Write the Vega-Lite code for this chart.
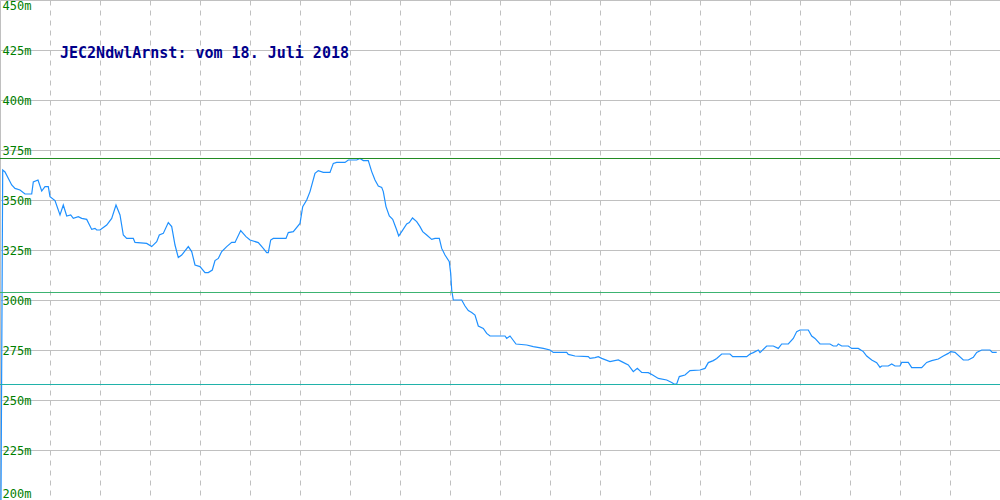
{
  "$schema": "https://vega.github.io/schema/vega-lite/v6.json",
  "width": 1000,
  "height": 500,
  "autosize": {"type": "none"},
  "padding": 0,
  "background": "white",
  "config": {"view": {"stroke": "#c0c0c0", "strokeWidth": 1}},
  "title": {
    "text": "JEC2NdwlArnst: vom 18. Juli 2018",
    "anchor": "start",
    "orient": "top",
    "frame": "group",
    "offset": -74,
    "dx": 60,
    "baseline": "alphabetic",
    "font": "DejaVu Sans Mono",
    "fontSize": 15,
    "fontWeight": "bold",
    "color": "#00008B"
  },
  "layer": [
    {
      "data": {"values": [
        {"t": 1, "v": 200}, {"t": 2.7, "v": 365}, {"t": 5, "v": 364}, {"t": 11.7, "v": 357.5}, {"t": 15, "v": 355.8},
        {"t": 20, "v": 355}, {"t": 25, "v": 353}, {"t": 31.7, "v": 353}, {"t": 33.3, "v": 359}, {"t": 38, "v": 360},
        {"t": 41.7, "v": 354.5}, {"t": 45, "v": 356.7}, {"t": 48.3, "v": 356.7}, {"t": 50, "v": 351.7}, {"t": 55, "v": 349.7},
        {"t": 60, "v": 342.5}, {"t": 63.3, "v": 347.5}, {"t": 66.7, "v": 342}, {"t": 70.7, "v": 342.5}, {"t": 73.3, "v": 340.8},
        {"t": 78.3, "v": 341.7}, {"t": 81.7, "v": 340.8}, {"t": 86.7, "v": 340.3}, {"t": 91.7, "v": 335.3}, {"t": 95, "v": 335.8},
        {"t": 96.7, "v": 335}, {"t": 100, "v": 335}, {"t": 106.7, "v": 337.5}, {"t": 111.7, "v": 340.8}, {"t": 116, "v": 347.5},
        {"t": 120, "v": 342.5}, {"t": 123.3, "v": 332.5}, {"t": 126.7, "v": 330.8}, {"t": 133.3, "v": 330.8}, {"t": 135, "v": 328.8},
        {"t": 146.7, "v": 328.3}, {"t": 151.7, "v": 326.7}, {"t": 156.7, "v": 329.2}, {"t": 159.3, "v": 332.5}, {"t": 163.3, "v": 333.3},
        {"t": 168.3, "v": 338.7}, {"t": 171.7, "v": 336.7}, {"t": 175, "v": 327.5}, {"t": 178.3, "v": 321.2}, {"t": 181.7, "v": 322.5},
        {"t": 188.3, "v": 326.7}, {"t": 191.7, "v": 324.2}, {"t": 195, "v": 317.5}, {"t": 200, "v": 316.7}, {"t": 205, "v": 313.7},
        {"t": 208.3, "v": 313.7}, {"t": 212.3, "v": 315}, {"t": 215, "v": 319.7}, {"t": 218.3, "v": 320.8}, {"t": 221.7, "v": 324.2},
        {"t": 226.7, "v": 326.7}, {"t": 231.7, "v": 328.8}, {"t": 235, "v": 328.8}, {"t": 240.7, "v": 334.7}, {"t": 246, "v": 331.7},
        {"t": 250, "v": 330}, {"t": 258.3, "v": 328.7}, {"t": 263.3, "v": 325.8}, {"t": 266.7, "v": 323.7}, {"t": 268.3, "v": 323.7},
        {"t": 270.7, "v": 330}, {"t": 273.3, "v": 330.8}, {"t": 286, "v": 330.8}, {"t": 288.3, "v": 333.7}, {"t": 293.3, "v": 334.2},
        {"t": 300, "v": 338.3}, {"t": 302.7, "v": 346.7}, {"t": 306.7, "v": 350}, {"t": 310, "v": 354.2}, {"t": 315, "v": 363.3},
        {"t": 318.3, "v": 364.7}, {"t": 323.3, "v": 363.8}, {"t": 330, "v": 363.8}, {"t": 333.3, "v": 368.3}, {"t": 336.7, "v": 368.8},
        {"t": 345, "v": 368.8}, {"t": 348.3, "v": 370}, {"t": 356.7, "v": 370}, {"t": 360, "v": 370.8}, {"t": 363.3, "v": 369.7},
        {"t": 368.3, "v": 369.7}, {"t": 371.7, "v": 364.2}, {"t": 375, "v": 360}, {"t": 378.3, "v": 357}, {"t": 381.7, "v": 356.3},
        {"t": 383.3, "v": 354.2}, {"t": 386, "v": 346.7}, {"t": 389.3, "v": 342}, {"t": 392.7, "v": 340.3}, {"t": 396.7, "v": 335},
        {"t": 398.7, "v": 332}, {"t": 401.7, "v": 334.2}, {"t": 406.7, "v": 338}, {"t": 409.3, "v": 338.7}, {"t": 412.5, "v": 341},
        {"t": 416.7, "v": 339.2}, {"t": 420, "v": 336.7}, {"t": 422.7, "v": 334.2}, {"t": 426.7, "v": 332.5}, {"t": 431.7, "v": 330.3},
        {"t": 435, "v": 330.8}, {"t": 439.3, "v": 330.8}, {"t": 441.7, "v": 325.8}, {"t": 445, "v": 322.5}, {"t": 449.3, "v": 319.2},
        {"t": 450.7, "v": 313.3}, {"t": 451.7, "v": 305}, {"t": 453.3, "v": 300}, {"t": 461.7, "v": 300}, {"t": 465, "v": 297},
        {"t": 468.3, "v": 294.7}, {"t": 471.7, "v": 293.7}, {"t": 475, "v": 292.5}, {"t": 478.3, "v": 287}, {"t": 483.3, "v": 285.8},
        {"t": 486.7, "v": 283.3}, {"t": 490, "v": 282}, {"t": 505, "v": 282}, {"t": 506.7, "v": 280.8}, {"t": 510, "v": 282},
        {"t": 516, "v": 278}, {"t": 526.7, "v": 277.5}, {"t": 533.3, "v": 276.7}, {"t": 543.3, "v": 275.8}, {"t": 550, "v": 275},
        {"t": 553.3, "v": 273.8}, {"t": 566.7, "v": 273.8}, {"t": 568.3, "v": 272.8}, {"t": 575, "v": 272}, {"t": 588.3, "v": 271.7},
        {"t": 590, "v": 270.8}, {"t": 595, "v": 271.2}, {"t": 598.3, "v": 271.7}, {"t": 601.7, "v": 270.8}, {"t": 610, "v": 269.2},
        {"t": 618.3, "v": 270}, {"t": 621.7, "v": 269.2}, {"t": 628.3, "v": 267.5}, {"t": 633.3, "v": 264.2}, {"t": 637.3, "v": 265.8},
        {"t": 641.7, "v": 263.8}, {"t": 648.3, "v": 263.7}, {"t": 652.7, "v": 262.5}, {"t": 658.3, "v": 260.8}, {"t": 666.7, "v": 260},
        {"t": 671.7, "v": 258.8}, {"t": 674, "v": 258}, {"t": 676.7, "v": 258}, {"t": 679.3, "v": 261.7}, {"t": 685, "v": 262.5},
        {"t": 690, "v": 264.7}, {"t": 700, "v": 265}, {"t": 705, "v": 265.8}, {"t": 708.3, "v": 268.7}, {"t": 713.3, "v": 269.7},
        {"t": 716.7, "v": 270.8}, {"t": 721.7, "v": 273}, {"t": 730, "v": 273}, {"t": 732.7, "v": 271.7}, {"t": 746.7, "v": 271.7},
        {"t": 750, "v": 273}, {"t": 753.3, "v": 273.7}, {"t": 758.3, "v": 275}, {"t": 760, "v": 273.7}, {"t": 766.7, "v": 277},
        {"t": 773.3, "v": 277}, {"t": 778.3, "v": 275.8}, {"t": 781.7, "v": 278}, {"t": 788.3, "v": 278}, {"t": 793.3, "v": 280.8},
        {"t": 796.7, "v": 284.2}, {"t": 800, "v": 285}, {"t": 808.3, "v": 285}, {"t": 811.7, "v": 282}, {"t": 815, "v": 280.8},
        {"t": 820, "v": 278}, {"t": 830, "v": 278}, {"t": 833.3, "v": 277}, {"t": 836.7, "v": 277}, {"t": 838.3, "v": 278},
        {"t": 841.7, "v": 277}, {"t": 848.3, "v": 277}, {"t": 851.7, "v": 275.8}, {"t": 858.3, "v": 275.8}, {"t": 863.3, "v": 274.2},
        {"t": 866.7, "v": 272}, {"t": 871.7, "v": 270}, {"t": 876.7, "v": 268.7}, {"t": 880, "v": 266.3}, {"t": 881.7, "v": 267},
        {"t": 888.3, "v": 267}, {"t": 891.7, "v": 268}, {"t": 895, "v": 267}, {"t": 900, "v": 267}, {"t": 901.7, "v": 268.8},
        {"t": 908.3, "v": 268.8}, {"t": 911.7, "v": 266.2}, {"t": 921.7, "v": 266.2}, {"t": 926.7, "v": 268.8}, {"t": 931.7, "v": 269.7},
        {"t": 938.3, "v": 270.5}, {"t": 943.3, "v": 272}, {"t": 948.3, "v": 273.3}, {"t": 950.7, "v": 274.2}, {"t": 955, "v": 273.8},
        {"t": 963.3, "v": 270}, {"t": 968.3, "v": 270}, {"t": 973.3, "v": 271.3}, {"t": 976.7, "v": 273.8}, {"t": 981.7, "v": 275},
        {"t": 990, "v": 275}, {"t": 992.3, "v": 273.8}, {"t": 996.7, "v": 273.8}
      ]},
      "mark": {"type": "line", "color": "#1E90FF", "strokeWidth": 1.2, "clip": true},
      "encoding": {
        "x": {
          "field": "t", "type": "quantitative",
          "scale": {"domain": [0, 1000], "nice": false, "zero": false},
          "axis": {
            "values": [50, 100, 150, 200, 250, 300, 350, 400, 450, 500, 550, 600, 650, 700, 750, 800, 850, 900, 950],
            "grid": true, "gridDash": [5, 5], "gridColor": "#c0c0c0", "gridOpacity": 1, "gridWidth": 1,
            "labels": false, "ticks": false, "domain": false, "title": null
          }
        },
        "y": {
          "field": "v", "type": "quantitative",
          "scale": {"domain": [200, 450], "nice": false, "zero": false},
          "axis": {
            "values": [200, 225, 250, 275, 300, 325, 350, 375, 400, 425, 450],
            "grid": true, "gridColor": "#c0c0c0", "gridOpacity": 1, "gridWidth": 1,
            "ticks": false, "domain": false, "title": null,
            "labelExpr": "datum.value + 'm'",
            "labelAlign": "left", "labelPadding": -2, "labelFlush": true,
            "labelFont": "DejaVu Sans Mono", "labelFontSize": 12, "labelColor": "#008000",
            "labelOverlap": false, "labelBound": false
          }
        }
      }
    },
    {
      "data": {"values": [
        {"k": "max", "v": 370.75},
        {"k": "mid", "v": 303.75},
        {"k": "min", "v": 257.75}
      ]},
      "mark": {"type": "rule", "strokeWidth": 1},
      "encoding": {
        "y": {"field": "v", "type": "quantitative"},
        "color": {
          "field": "k", "type": "nominal",
          "scale": {"domain": ["max", "mid", "min"], "range": ["#228B22", "#3CB371", "#20B2AA"]},
          "legend": null
        }
      }
    }
  ]
}
